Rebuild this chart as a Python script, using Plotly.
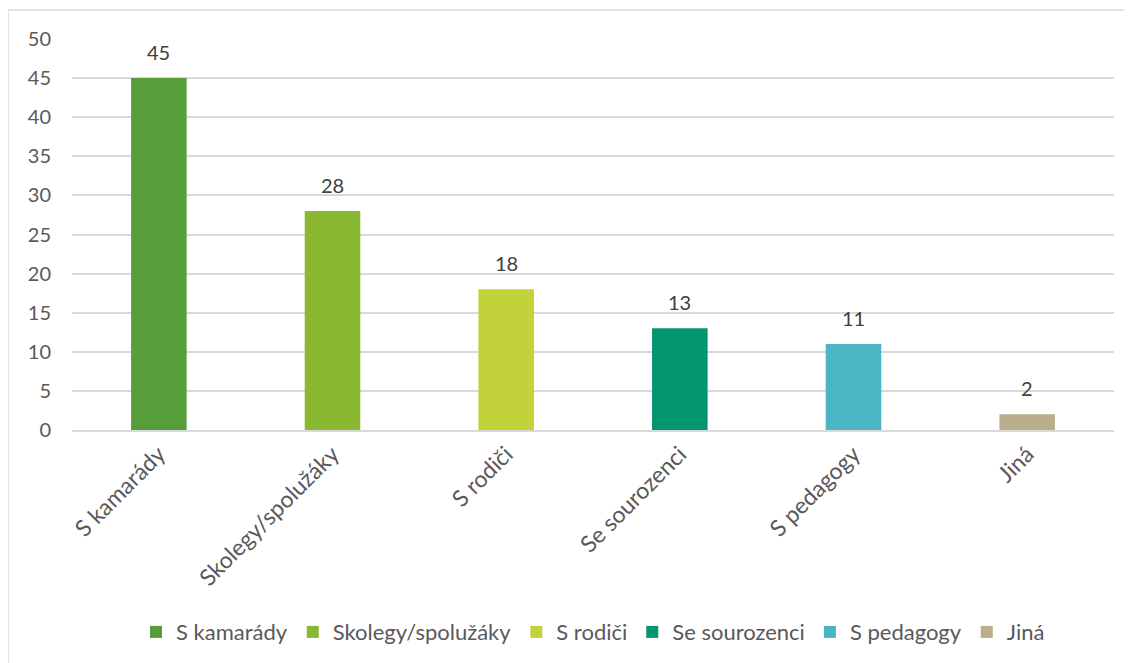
import plotly.graph_objects as go

categories = ['S kamarády', 'Skolegy/spolužáky', 'S rodiči', 'Se sourozenci', 'S pedagogy', 'Jiná']
values = [45, 28, 18, 13, 11, 2]
colors = ['#559E3A', '#8BB833', '#C1D23A', '#03956F', '#4AB5C4', '#BBAE8C']
y_ticks = [0, 5, 10, 15, 20, 25, 30, 35, 40, 45, 50]

font_main = 'Lato, Calibri, sans-serif'
text_color = '#595959'

fig = go.Figure()

for cat, val, col in zip(categories, values, colors):
    fig.add_trace(go.Bar(
        x=[cat], y=[val], name=cat,
        marker=dict(color=col, line=dict(width=0)),
    ))
    # value label above each bar
    fig.add_annotation(x=cat, y=val, text=str(val), showarrow=False,
                       yanchor='bottom', yshift=12,
                       font=dict(size=20, color='#404040', family=font_main))

fig.update_layout(
    width=1124, height=655,
    margin=dict(l=64, r=18, t=31, b=232),
    paper_bgcolor='white', plot_bgcolor='white',
    barmode='overlay', bargap=0.68,
    font=dict(family=font_main, size=20, color=text_color),
    showlegend=True,
    legend=dict(orientation='h', x=0.5, xanchor='center', y=-0.513, yanchor='middle',
                font=dict(size=22, color=text_color), itemwidth=30,
                traceorder='normal'),
)

fig.update_xaxes(
    tickangle=-45, showgrid=False, showline=True, linecolor='#D9D9D9', linewidth=1.5,
    ticks='', tickfont=dict(size=23, color=text_color),
)
fig.update_yaxes(
    range=[0, 50], tickvals=y_ticks, showgrid=True, gridcolor='#D9D9D9', gridwidth=1.5,
    zeroline=False, showline=False, ticks='', ticklabelstandoff=20,
    tickfont=dict(size=20, color=text_color),
)

# outer chart border
fig.add_shape(type='rect', xref='paper', yref='paper',
              x0=(0 - 64) / 1042, x1=(1123 - 64) / 1042,
              y0=(423 - 700) / 392, y1=(423 - 2) / 392,
              line=dict(color='#D9D9D9', width=1.5), fillcolor='rgba(0,0,0,0)', layer='below')

fig.write_html("out.html")
